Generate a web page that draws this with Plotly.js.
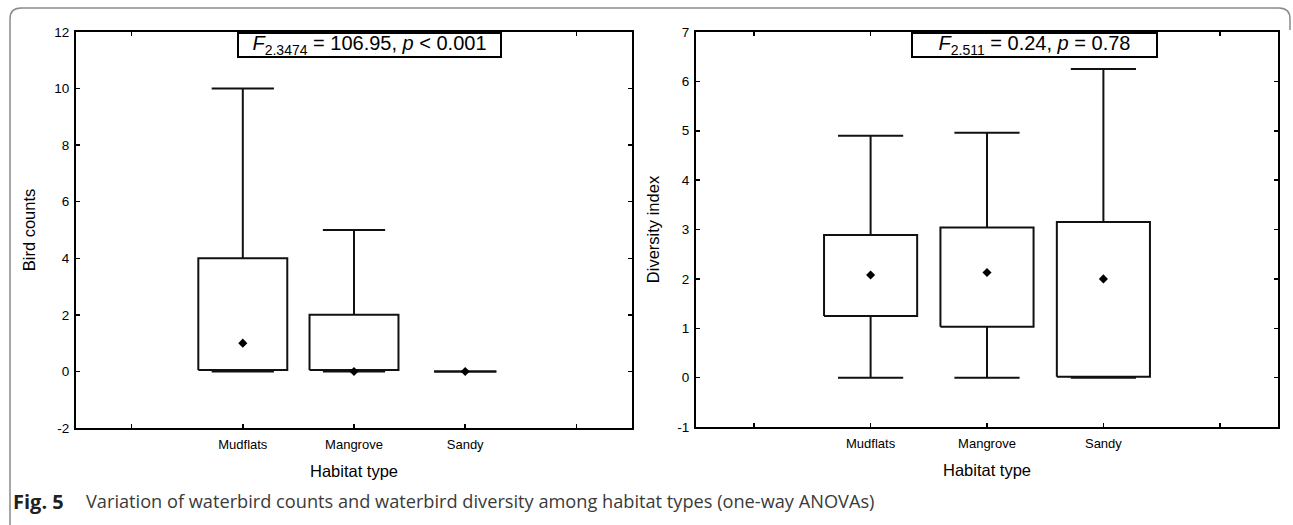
<!DOCTYPE html>
<html>
<head>
<meta charset="utf-8">
<script src="https://cdn.plot.ly/plotly-3.0.1.min.js"></script>
<style>html,body{margin:0;padding:0;background:#fff;}#chart{width:1293px;height:525px;}</style>
</head>
<body>
<div id="chart"></div>
<script>
// ---- data ----
const habitats = ['Mudflats', 'Mangrove', 'Sandy'];
// Bird counts (left panel)
const countMin    = [0, 0, 0];
const countQ1     = [0.05, 0.05, 0];
const countMedian = [1, 0, 0];
const countQ3     = [4, 2, 0];
const countMax    = [10, 5, 0];
// Diversity index (right panel)
const divMin    = [0, 0, 0];
const divQ1     = [1.25, 1.03, 0.02];
const divMedian = [2.08, 2.13, 2.0];
const divQ3     = [2.89, 3.04, 3.15];
const divMax    = [4.9, 4.96, 6.25];
// tick values
const countTicks = [-2, 0, 2, 4, 6, 8, 10, 12];
const divTicks   = [-1, 0, 1, 2, 3, 4, 5, 6, 7];
const statLeft  = '<i>F</i><sub>2,3474</sub> = 106.95, <i>p</i> &lt; 0.001';
const statRight = '<i>F</i><sub>2,511</sub> = 0.24, <i>p</i> = 0.78';

// ---- build traces ----
const W = 1293, H = 525;
const BOX_HALF = 0.4, CAP_HALF = 0.28;
const LINE = '#111111';
function pos(i) { return i + 2; } // category slots 2,3,4 on a 1..5 axis

function boxTraces(mins, q1, med, q3, maxs, xa, ya) {
  const bx = [], by = [], wx = [], wy = [];
  habitats.forEach((h, i) => {
    const c = pos(i);
    if (q3[i] - q1[i] > 1e-9) {
      bx.push(c - BOX_HALF, c - BOX_HALF, c + BOX_HALF, c + BOX_HALF, c - BOX_HALF, null);
      by.push(q1[i], q3[i], q3[i], q1[i], q1[i], null);
    }
    // upper whisker + cap
    wx.push(c, c, null, c - CAP_HALF, c + CAP_HALF, null);
    wy.push(q3[i], maxs[i], null, maxs[i], maxs[i], null);
    // lower whisker + cap
    wx.push(c, c, null, c - CAP_HALF, c + CAP_HALF, null);
    wy.push(q1[i], mins[i], null, mins[i], mins[i], null);
  });
  return [
    {type: 'scatter', mode: 'lines', x: bx, y: by, xaxis: xa, yaxis: ya,
     line: {color: LINE, width: 2}, hoverinfo: 'skip', showlegend: false},
    {type: 'scatter', mode: 'lines', x: wx, y: wy, xaxis: xa, yaxis: ya,
     line: {color: LINE, width: 2}, hoverinfo: 'skip', showlegend: false},
    {type: 'scatter', mode: 'markers', x: habitats.map((h, i) => pos(i)), y: med,
     xaxis: xa, yaxis: ya, text: habitats,
     marker: {symbol: 'diamond', size: 7, color: '#000'}, showlegend: false}
  ];
}

const data = [
  ...boxTraces(countMin, countQ1, countMedian, countQ3, countMax, 'x', 'y'),
  ...boxTraces(divMin, divQ1, divMedian, divQ3, divMax, 'x2', 'y2')
];

const FONT = 'Liberation Sans, Arial, sans-serif';
function xAxis(domain) {
  return {
    domain: domain, range: [0.5, 5.5], tickmode: 'array',
    tickvals: [1, 2, 3, 4, 5], ticktext: ['', ...habitats, ''],
    ticks: 'inside', ticklen: 4, tickwidth: 1.5, tickcolor: '#000',
    showline: true, linewidth: 2, linecolor: '#000', mirror: 'ticks',
    showgrid: false, zeroline: false, ticklabelstandoff: 3,
    tickfont: {family: FONT, size: 13, color: '#000'},
    title: {text: 'Habitat type', font: {family: FONT, size: 16.5, color: '#000'}, standoff: 15}
  };
}
function yAxis(domain, range, ticks, title, anchor) {
  return {
    domain: domain, range: range, anchor: anchor, tickmode: 'array',
    tickvals: ticks, ticktext: ticks.map(String),
    ticks: 'inside', ticklen: 4, tickwidth: 1.5, tickcolor: '#000',
    showline: true, linewidth: 2, linecolor: '#000', mirror: 'ticks',
    showgrid: false, zeroline: false, ticklabelstandoff: 2,
    tickfont: {family: FONT, size: 13.5, color: '#000'},
    title: {text: title, font: {family: FONT, size: 16.5, color: '#000'}, standoff: 14}
  };
}

function px(x) { return x / W; }
function py(y) { return 1 - y / H; }

const xa1 = xAxis([px(76), px(632)]);  xa1.anchor = 'y';
const xa2 = xAxis([px(696), px(1278)]); xa2.anchor = 'y2';
const ya1 = yAxis([py(428), py(32)], [-2, 12], countTicks, 'Bird counts', 'x');
const ya2 = yAxis([py(427), py(32)], [-1, 7], divTicks, 'Diversity index', 'x2');

function statBox(text, cx, width) {
  return {
    xref: 'paper', yref: 'paper', x: px(cx), y: py(32), xanchor: 'center', yanchor: 'top',
    text: text, showarrow: false, width: width, height: 20, align: 'center', valign: 'middle',
    bgcolor: '#fff', bordercolor: '#000', borderwidth: 2, borderpad: 1,
    font: {family: FONT, size: 20, color: '#000'}
  };
}

const CAPFONT = 'Open Sans, Noto Sans, sans-serif';
const layout = {
  width: W, height: H,
  margin: {l: 0, r: 0, t: 0, b: 0},
  paper_bgcolor: '#fff', plot_bgcolor: '#fff',
  showlegend: false,
  xaxis: xa1, yaxis: ya1, xaxis2: xa2, yaxis2: ya2,
  annotations: [
    statBox(statLeft, 369.5, 259),
    statBox(statRight, 1034.5, 241),
    {xref: 'paper', yref: 'paper', x: px(11), y: py(501), xanchor: 'left', yanchor: 'middle',
     text: '<b>Fig. 5</b>', showarrow: false,
     font: {family: CAPFONT, size: 20, color: '#231f20'}},
    {xref: 'paper', yref: 'paper', x: px(84), y: py(501), xanchor: 'left', yanchor: 'middle',
     text: 'Variation of waterbird counts and waterbird diversity among habitat types (one-way ANOVAs)',
     showarrow: false,
     font: {family: CAPFONT, size: 18.2, color: '#3a3a3a'}}
  ],
  shapes: [
    {type: 'path', xref: 'paper', yref: 'paper',
     path: 'M ' + px(10) + ',' + py(530) + ' L ' + px(10) + ',' + py(19) +
           ' Q ' + px(10) + ',' + py(8) + ' ' + px(21) + ',' + py(8) +
           ' L ' + px(1279) + ',' + py(8) +
           ' Q ' + px(1290) + ',' + py(8) + ' ' + px(1290) + ',' + py(19) +
           ' L ' + px(1290) + ',' + py(30),
     line: {color: '#8a8a8a', width: 1.5}}
  ]
};

Plotly.newPlot('chart', data, layout, {displayModeBar: false, staticPlot: true});
</script>
</body>
</html>
